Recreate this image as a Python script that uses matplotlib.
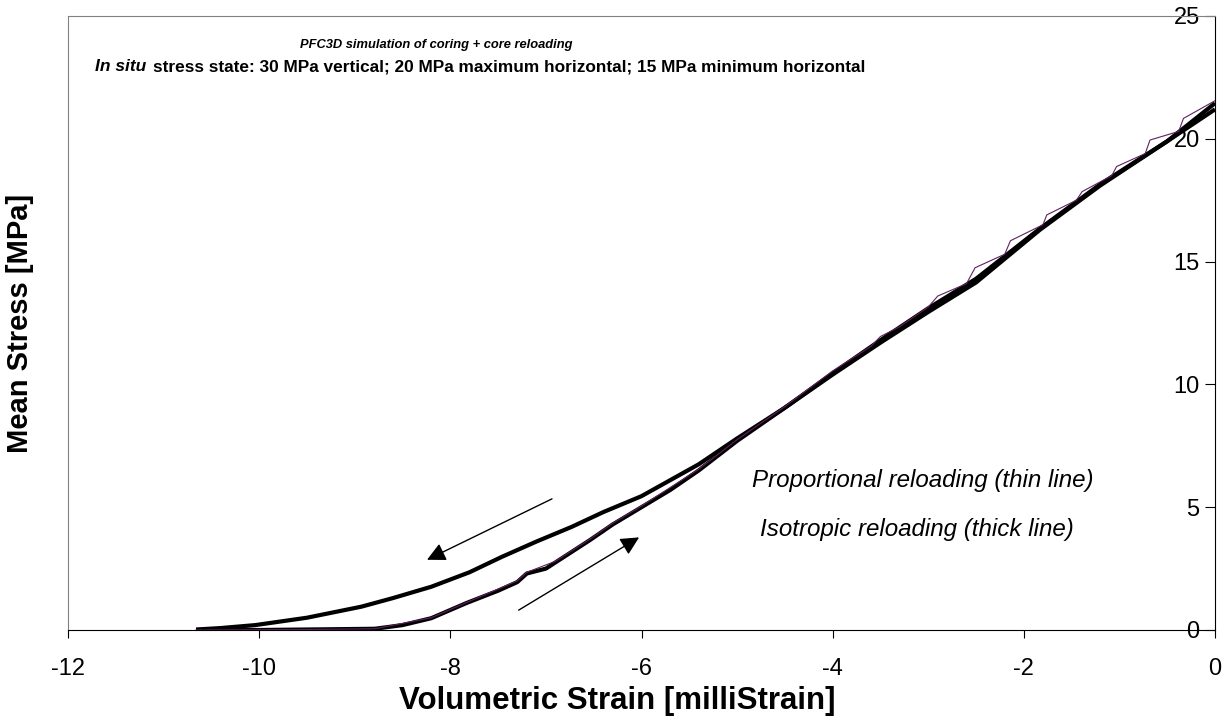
import matplotlib.pyplot as plt

plt.rcParams['font.family'] = ['Liberation Sans', 'DejaVu Sans']
plt.rcParams['axes.unicode_minus'] = False

# coring (unloading) path, thick line
coring_x = [0.0, -0.5, -1.2, -1.83, -2.5, -3.0, -3.5, -4.0, -4.5, -5.0, -5.4,
            -6.0, -6.4, -6.73, -7.1, -7.46, -7.8, -8.2, -8.6, -8.93, -9.5,
            -10.04, -10.4, -10.66]
coring_y = [21.45, 19.9, 18.1, 16.3, 14.15, 12.95, 11.7, 10.4, 9.05, 7.8, 6.75,
            5.45, 4.8, 4.2, 3.6, 2.98, 2.35, 1.76, 1.3, 0.95, 0.5,
            0.2, 0.08, 0.02]

# isotropic reloading, thick line
reload_x = [-10.66, -10.0, -9.5, -8.79, -8.5, -8.2, -7.83, -7.5, -7.3, -7.2, -7.0,
            -6.54, -6.3, -6.0, -5.7, -5.4, -5.0, -4.5, -4.0, -3.5, -3.0, -2.5,
            -1.83, -1.2, -0.5, 0.0]
reload_y = [0.0, 0.0, 0.02, 0.05, 0.2, 0.48, 1.1, 1.6, 1.95, 2.3, 2.5,
            3.66, 4.3, 5.0, 5.7, 6.5, 7.7, 9.05, 10.45, 11.8, 13.1, 14.3,
            16.35, 18.15, 19.9, 21.2]

# proportional reloading, thin line
prop_x = [-10.66, -9.5, -8.79, -8.2, -7.83, -7.3, -7.2, -6.9, -6.54, -6.3, -6.0,
          -5.4, -5.0, -4.5, -4.0, -3.6, -3.5, -3.3, -3.0, -2.9, -2.6, -2.51,
          -2.2, -2.14, -1.8, -1.76, -1.45, -1.39, -1.08, -1.03, -0.73, -0.68,
          -0.38, -0.33, 0.0]
prop_y = [0.0, 0.02, 0.05, 0.5, 1.12, 2.0, 2.35, 2.8, 3.7, 4.35, 5.05,
          6.55, 7.75, 9.1, 10.55, 11.55, 11.95, 12.35, 13.15, 13.6, 14.1, 14.75,
          15.3, 15.85, 16.5, 16.9, 17.5, 17.85, 18.5, 18.87, 19.4, 19.95,
          20.3, 20.83, 21.55]

x_ticks = [-12, -10, -8, -6, -4, -2, 0]
y_ticks = [0, 5, 10, 15, 20, 25]

fig = plt.figure(figsize=(12.26, 7.26), dpi=100)
ax = fig.add_axes([68/1226, 1 - 630/726, 1147/1226, 614/726])

ax.plot(coring_x, coring_y, color='black', lw=3, solid_capstyle='butt')
ax.plot(reload_x, reload_y, color='black', lw=3, solid_capstyle='butt')
ax.plot(prop_x, prop_y, color='#602060', lw=0.8)

# arrows showing loading direction
ax.annotate('', xy=(-8.27, 2.81), xytext=(-6.91, 5.39),
            arrowprops=dict(arrowstyle='-|>', color='black', lw=1, mutation_scale=28))
ax.annotate('', xy=(-6.0, 3.83), xytext=(-7.31, 0.75),
            arrowprops=dict(arrowstyle='-|>', color='black', lw=1, mutation_scale=28))

ax.set_xlim(-12, 0)
ax.set_ylim(0, 25)
ax.set_xticks(x_ticks)
ax.set_yticks(y_ticks)

ax.spines['left'].set_color('#808080')
ax.spines['top'].set_color('#808080')
ax.spines['right'].set_color('black')
ax.spines['bottom'].set_color('black')

ax.tick_params(axis='x', direction='out', length=6, pad=14, labelsize=17)
ax.tick_params(axis='y', left=False, right=True, labelleft=False, labelright=True,
               direction='in', length=7, pad=-11, labelsize=17)
for lbl in ax.get_yticklabels():
    lbl.set_ha('right')

ax.set_xlabel('Volumetric Strain [milliStrain]', fontsize=22.5, fontweight='bold')
ax.xaxis.set_label_coords(0.479, -0.092)
ax.yaxis.set_label_position('left')
ax.set_ylabel('Mean Stress [MPa]', fontsize=21, fontweight='bold')
ax.yaxis.set_label_coords(-0.0296, 0.5)

ax.text(0.321, 0.953, 'PFC3D simulation of coring + core reloading', transform=ax.transAxes,
        ha='center', va='center', fontsize=9.3, fontweight='bold', style='italic')
ax.text(0.0235, 0.917, 'In situ', transform=ax.transAxes, ha='left', va='center',
        fontsize=12.5, fontweight='bold', style='italic')
ax.text(0.0741, 0.917, 'stress state: 30 MPa vertical; 20 MPa maximum horizontal; 15 MPa minimum horizontal',
        transform=ax.transAxes, ha='left', va='center', fontsize=12.4, fontweight='bold')

ax.text(0.596, 0.243, 'Proportional reloading (thin line)', transform=ax.transAxes,
        ha='left', va='center', fontsize=17.4, style='italic')
ax.text(0.603, 0.164, 'Isotropic reloading (thick line)', transform=ax.transAxes,
        ha='left', va='center', fontsize=17.4, style='italic')

fig.savefig('out.png', dpi=100)
